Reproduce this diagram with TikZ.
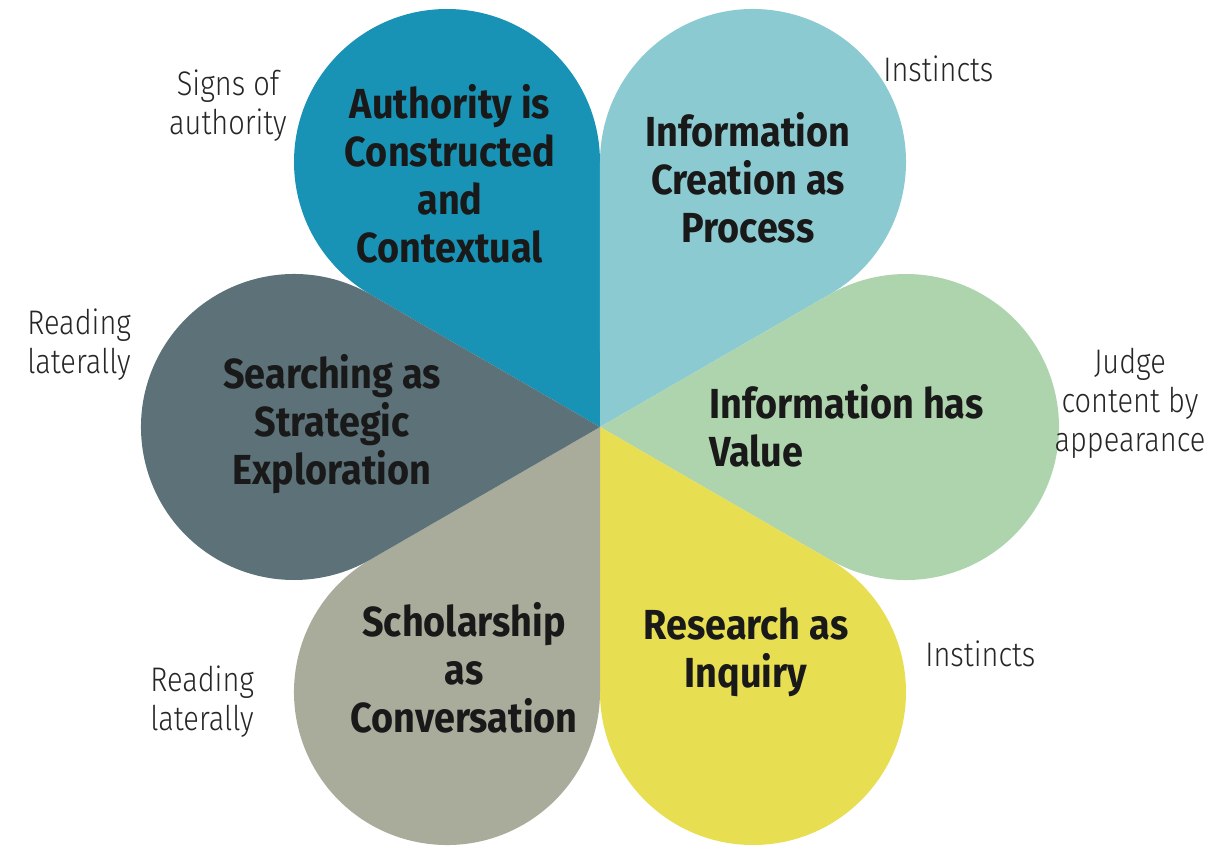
\documentclass[tikz,border=0pt]{standalone}
\usepackage{fontspec}
\setmainfont{Fira Sans}
\newfontfamily\petalfont[FakeStretch=0.9]{Fira Sans Bold}
\newfontfamily\notefont[FakeStretch=0.85,UprightFont={* Light}]{Fira Sans}
\usetikzlibrary{positioning}
\definecolor{authc}{HTML}{1893B5}
\definecolor{creac}{HTML}{8BCAD1}
\definecolor{valuc}{HTML}{AED4AE}
\definecolor{inqc}{HTML}{E8DE52}
\definecolor{scholc}{HTML}{A9AC9A}
\definecolor{searc}{HTML}{5C7278}

\begin{document}
\begin{tikzpicture}
% Define styles
\tikzstyle{frame} = [align=center, text=black!90, font=\petalfont\fontsize{23.9}{27.3}\selectfont]
\tikzstyle{note} = [align=center, text=black!85, font=\notefont\fontsize{19.4}{22.2}\selectfont]

\useasboundingbox (-12,-8.4) rectangle (12.28,8.54);

% Draw petals
\foreach \ang/\col in {120/authc, 60/creac, 0/valuc, -60/inqc, -120/scholc, 180/searc}
  \fill[\col] (0,0) -- (\ang-30:5.30) arc[start angle=\ang-120, end angle=\ang+120, radius=3.06] -- cycle;

% Draw nodes
\node (authority) [frame] at (-3.0,5.06) {Authority is\\Constructed\\and\\Contextual};
\node (creation) [frame] at (2.96,4.98) {Information\\Creation as\\Process};
\node (value) [frame, align=left, anchor=west] at (2.06,0.02) {Information has\\Value};
\node (inquiry) [frame] at (2.92,-4.5) {Research as\\Inquiry};
\node (scholarship) [frame] at (-2.72,-4.82) {Scholarship\\as\\Conversation};
\node (searching) [frame] at (-5.36,0.06) {Searching as\\Strategic\\Exploration};

% Side notes
\node (signs) [note] at (-7.44,6.42) {Signs of\\authority};
\node (instincts1) [note, anchor=west, inner sep=0pt] at (5.66,7.16) {Instincts};
\node (lateral1) [note, align=left, anchor=west, inner sep=0pt] at (-11.46,1.64) {Reading\\laterally};
\node (judge) [note] at (10.6,0.48) {Judge\\content by\\appearance};
\node (instincts2) [note, anchor=west, inner sep=0pt] at (6.5,-4.54) {Instincts};
\node (lateral2) [note, align=left, anchor=west, inner sep=0pt] at (-9.0,-5.5) {Reading\\laterally};
\end{tikzpicture}
\end{document}
